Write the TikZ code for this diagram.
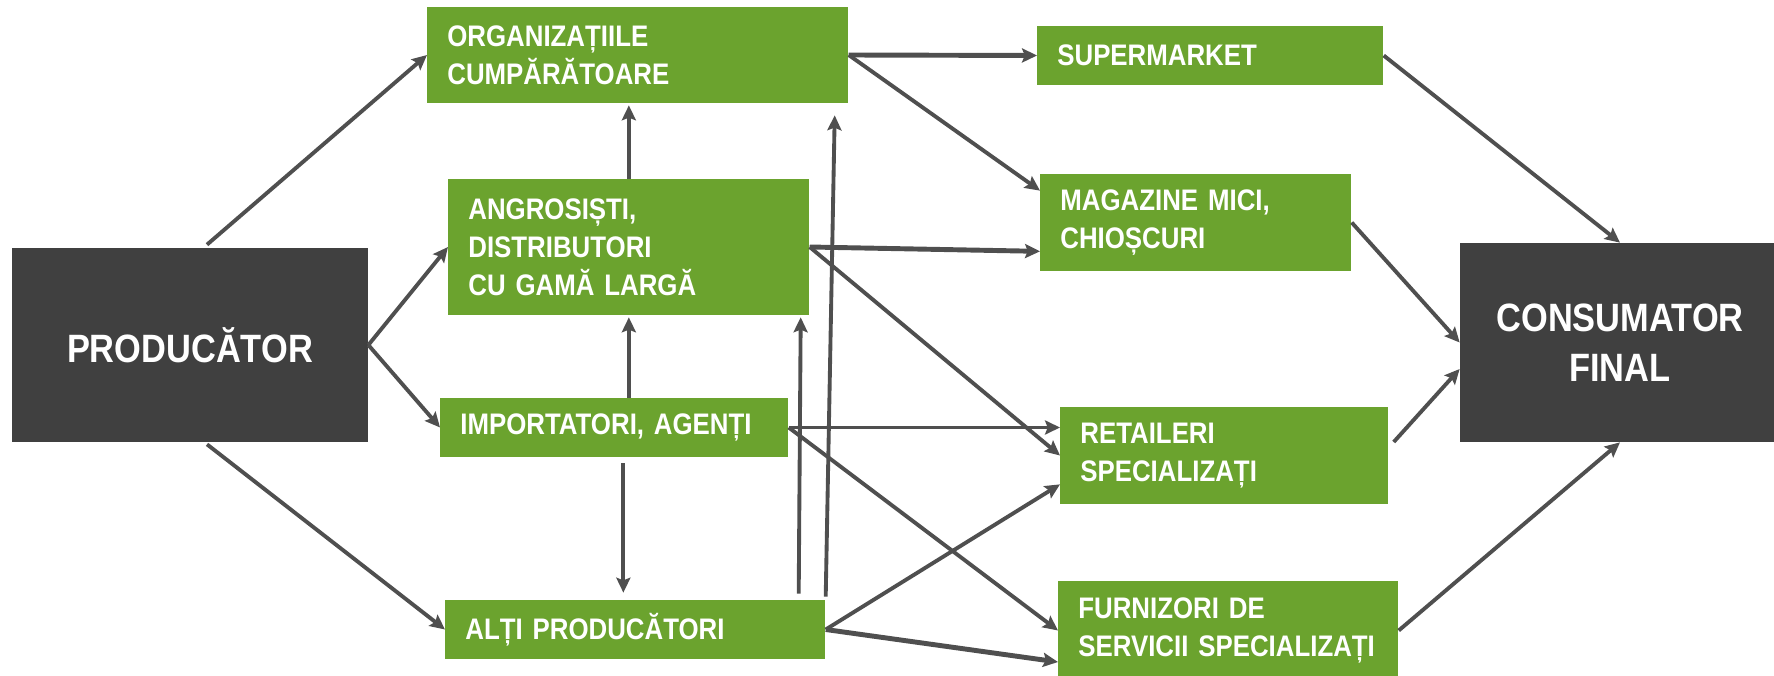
\documentclass[tikz,border=0pt]{standalone}
\usepackage{fontspec}
\setmainfont{Liberation Sans}[FakeStretch=0.87]
\usetikzlibrary{arrows.meta}

\definecolor{boxgreen}{HTML}{6BA32E}
\definecolor{boxdark}{HTML}{404040}
\definecolor{flowgray}{HTML}{4F4F4F}

\tikzset{
  greenbox/.style 2 args={fill=boxgreen, text=white, anchor=west, align=left,
    font=\bfseries\fontsize{16.9}{21.5}\selectfont,
    inner xsep=0.4cm, inner ysep=0pt, text width=#1, minimum height=#2},
  darkbox/.style 2 args={fill=boxdark, text=white, align=center,
    font=\bfseries\fontsize{22.5}{28.3}\selectfont,
    minimum width=#1, minimum height=#2},
  flow/.style={draw=flowgray, line width=2.2pt,
    -{Stealth[length=8.5pt,width=8pt,inset=1.5pt]}},
  thickflow/.style={flow, line width=2.8pt},
}

\begin{document}
\begin{tikzpicture}
  \useasboundingbox (0,0) rectangle (35.48,13.5);

  % end points
  \node[darkbox={7.12cm}{3.88cm}] (prod) at (3.8,6.6) {PRODUCĂTOR};
  \node[darkbox={6.4cm}{3.98cm}] (cons) at (32.4,6.65) {CONSUMATOR\\FINAL};

  % middle column
  \node[greenbox={7.62cm}{1.92cm}] (org) at (8.54,12.4) {ORGANIZAȚIILE\\CUMPĂRĂTOARE};
  \node[greenbox={6.42cm}{2.72cm}] (angr) at (8.96,8.56) {ANGROSIȘTI,\\DISTRIBUTORI\\CU GAMĂ LARGĂ};
  \node[greenbox={6.16cm}{1.18cm}] (imp) at (8.8,4.95) {IMPORTATORI, AGENȚI};
  \node[greenbox={6.8cm}{1.18cm}] (alti) at (8.9,0.91) {ALȚI PRODUCĂTORI};

  % shops
  \node[greenbox={6.12cm}{1.18cm}] (super) at (20.74,12.39) {SUPERMARKET};
  \node[greenbox={5.42cm}{1.94cm}] (mag) at (20.8,9.05) {MAGAZINE MICI,\\CHIOȘCURI};
  \node[greenbox={5.76cm}{1.94cm}] (ret) at (21.2,4.39) {RETAILERI\\SPECIALIZAȚI};
  \node[greenbox={6.0cm}{2.0cm}] (furn) at (21.16,0.89) {FURNIZORI DE\\SERVICII SPECIALIZAȚI};

  % from producer
  \draw[flow] ([xshift=0.34cm,yshift=0.06cm]prod.north) -- (org.west);
  \draw[flow] (prod.east) -- (angr.west);
  \draw[flow] (prod.east) -- (imp.west);
  \draw[flow] ([xshift=0.34cm,yshift=-0.04cm]prod.south) -- (alti.west);

  % verticals
  \draw[flow] (angr.north) -- ([yshift=-0.04cm]angr.north |- org.south);
  \draw[flow] (angr.south |- imp.north) -- ([yshift=-0.04cm]angr.south);
  \draw[flow] ([xshift=0.18cm,yshift=-0.12cm]imp.south) -- ([xshift=0.18cm,yshift=0.14cm]imp.south |- alti.north);
  \draw[flow] ([xshift=-0.54cm,yshift=0.12cm]alti.north east) -- ([xshift=-0.18cm,yshift=-0.04cm]angr.south east);
  \draw[flow] ([yshift=0.06cm]alti.north east) -- ([xshift=-0.28cm,yshift=-0.24cm]org.south east);

  % to shops
  \draw[thickflow] (org.east) -- (super.west);
  \draw[flow] (org.east) -- ([yshift=-0.34cm]mag.north west);
  \draw[thickflow] (angr.east) -- ([yshift=0.4cm]mag.south west);
  \draw[flow] (angr.east) -- (ret.west);
  \draw[flow] (imp.east) -- (imp.east -| ret.west);
  \draw[flow] (imp.east) -- (furn.west);
  \draw[flow] (alti.east) -- ([yshift=0.4cm]ret.south west);
  \draw[thickflow] (alti.east) -- ([yshift=-0.63cm]furn.west);

  % to consumer
  \draw[flow] (super.east) -- (cons.north);
  \draw[flow] (mag.east) -- (cons.west);
  \draw[flow] ([xshift=0.1cm,yshift=0.27cm]ret.east) -- ([yshift=-0.53cm]cons.west);
  \draw[flow] (furn.east) -- (cons.south);
\end{tikzpicture}
\end{document}
